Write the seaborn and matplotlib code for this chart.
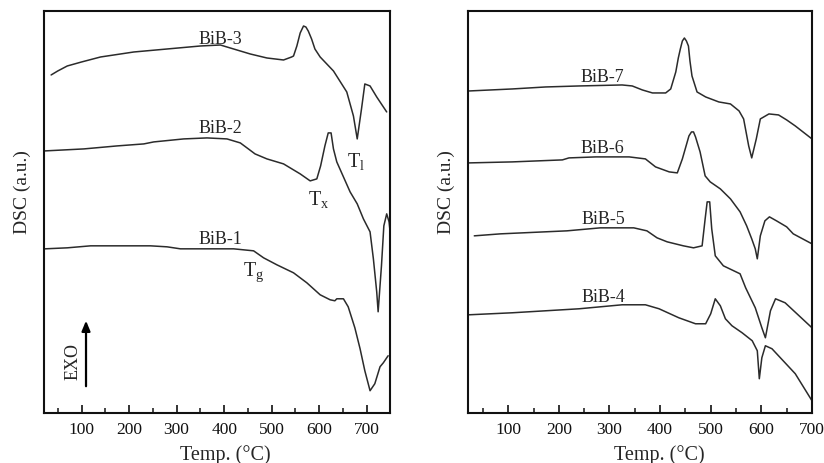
import matplotlib
matplotlib.use("Agg")
import matplotlib.pyplot as plt
import seaborn as sns
import pandas as pd

# ---------------- data (temperature in °C, DSC in arbitrary units) ----------------
bib3_t = [36, 50, 70, 100, 140, 210, 280, 350, 392, 413, 455, 490, 525, 542, 546, 553, 560, 567, 572, 577, 584, 591, 602, 630, 658, 672, 680, 689, 696, 707, 721, 742]
bib3_d = [338, 342, 347, 351, 356, 361, 364, 367, 368, 365, 359, 355, 353, 356, 357, 367, 380, 387, 386, 382, 374, 364, 356, 342, 321, 297, 274, 304, 329, 327, 316, 301]

bib2_t = [23, 105, 175, 231, 252, 315, 364, 406, 434, 451, 465, 490, 525, 560, 581, 595, 603, 612, 619, 625, 630, 637, 665, 680, 693, 707, 714, 721, 724, 731, 736, 742, 747, 749]
bib2_d = [262, 264, 267, 269, 271, 274, 275, 274, 270, 264, 259, 254, 249, 239, 232, 234, 247, 267, 280, 280, 264, 251, 221, 209, 194, 181, 154, 121, 101, 147, 187, 199, 191, 182]

bib1_t = [23, 70, 119, 175, 245, 280, 308, 350, 420, 462, 483, 511, 546, 574, 602, 623, 633, 637, 651, 661, 675, 686, 696, 707, 717, 728, 735, 745]
bib1_d = [164, 165, 167, 167, 167, 166, 164, 164, 164, 162, 155, 148, 140, 130, 118, 113, 112, 114, 114, 106, 85, 64, 42, 22, 29, 46, 50, 57]

bib7_t = [23, 108, 174, 240, 325, 345, 365, 385, 411, 421, 431, 436, 440, 444, 448, 452, 456, 459, 463, 473, 490, 516, 539, 556, 565, 575, 581, 590, 598, 615, 634, 650, 667, 700]
bib7_d = [322, 324, 326, 327, 328, 327, 323, 320, 320, 324, 341, 355, 364, 372, 375, 372, 367, 352, 337, 321, 316, 311, 309, 302, 294, 267, 255, 274, 294, 299, 298, 293, 287, 274]

bib6_t = [23, 108, 207, 220, 273, 339, 371, 391, 418, 434, 444, 457, 462, 466, 470, 479, 489, 499, 519, 539, 558, 571, 581, 588, 592, 598, 607, 616, 630, 650, 663, 700]
bib6_d = [250, 251, 253, 255, 256, 256, 254, 246, 241, 240, 254, 277, 281, 281, 276, 261, 237, 231, 224, 214, 201, 187, 174, 164, 154, 177, 192, 196, 192, 186, 179, 169]

bib5_t = [33, 85, 216, 282, 348, 374, 394, 414, 446, 466, 483, 489, 493, 498, 502, 509, 525, 558, 569, 588, 601, 608, 618, 628, 647, 700]
bib5_d = [177, 179, 182, 185, 185, 182, 175, 171, 167, 165, 167, 194, 211, 211, 184, 157, 147, 139, 125, 105, 85, 75, 102, 114, 110, 85]

bib4_t = [23, 108, 240, 325, 371, 398, 437, 470, 490, 500, 509, 519, 529, 542, 562, 582, 592, 596, 601, 608, 621, 667, 700]
bib4_d = [98, 100, 104, 108, 108, 104, 95, 89, 89, 99, 114, 107, 94, 87, 80, 72, 62, 34, 55, 67, 64, 39, 12]

left_names = ["BiB-3", "BiB-2", "BiB-1"]
right_names = ["BiB-7", "BiB-6", "BiB-5", "BiB-4"]
xticks = [100, 200, 300, 400, 500, 600, 700]

# label anchor positions (temperature, DSC)
left_label_t = [392, 392, 392]
left_label_d = [370, 281, 170]
right_label_t = [286, 287, 289, 289]
right_label_d = [332, 261, 190, 112]
marker_texts = ["T$_\\mathregular{l}$", "T$_\\mathregular{x}$", "T$_\\mathregular{g}$"]
marker_t = [677, 598, 462]
marker_d = [247, 209, 138]

# ---------------- style ----------------
sns.set_style("ticks")
plt.rcParams["font.family"] = ["Liberation Serif", "DejaVu Serif"]
plt.rcParams["mathtext.fontset"] = "custom"
plt.rcParams["mathtext.rm"] = "Liberation Serif"
plt.rcParams["mathtext.it"] = "Liberation Serif:italic"
plt.rcParams["axes.linewidth"] = 1.5
plt.rcParams["axes.edgecolor"] = "#111111"

fig = plt.figure(figsize=(8.24, 4.64), dpi=100)
axL = fig.add_axes([0.0528, 0.1084, 0.4211, 0.8657])
axR = fig.add_axes([0.5676, 0.1084, 0.4178, 0.8657])

line_color = "#2b2b2b"

left_df = pd.concat([
    pd.DataFrame({"T": bib3_t, "DSC": bib3_d, "sample": "BiB-3"}),
    pd.DataFrame({"T": bib2_t, "DSC": bib2_d, "sample": "BiB-2"}),
    pd.DataFrame({"T": bib1_t, "DSC": bib1_d, "sample": "BiB-1"}),
])
right_df = pd.concat([
    pd.DataFrame({"T": bib7_t, "DSC": bib7_d, "sample": "BiB-7"}),
    pd.DataFrame({"T": bib6_t, "DSC": bib6_d, "sample": "BiB-6"}),
    pd.DataFrame({"T": bib5_t, "DSC": bib5_d, "sample": "BiB-5"}),
    pd.DataFrame({"T": bib4_t, "DSC": bib4_d, "sample": "BiB-4"}),
])

sns.lineplot(data=left_df, x="T", y="DSC", hue="sample", units="sample", estimator=None,
             palette={n: line_color for n in left_names}, lw=1.1, legend=False, ax=axL)
sns.lineplot(data=right_df, x="T", y="DSC", hue="sample", units="sample", estimator=None,
             palette={n: line_color for n in right_names}, lw=1.1, legend=False, ax=axR)

for ax, xmax in ((axL, 750), (axR, 700)):
    ax.set_xlim(20, xmax)
    ax.set_ylim(0, 402)
    ax.set_yticks([])
    ax.set_xticks(xticks)
    ax.set_xticks(list(range(50, xmax + 1, 100)), minor=True)
    ax.tick_params(axis="x", which="major", direction="in", length=6, width=1.2,
                   labelsize=12.5, pad=6, colors="#111111")
    ax.tick_params(axis="x", which="minor", direction="in", length=3.5, width=1.2)
    ax.set_xlabel("Temp. (\u00b0C)", fontsize=14.5)
    ax.set_ylabel("DSC (a.u.)", fontsize=14)
    for s in ax.spines.values():
        s.set_visible(True)
        s.set_linewidth(1.5)

axL.xaxis.set_label_coords(0.523, -0.078)
axR.xaxis.set_label_coords(0.557, -0.078)
axL.yaxis.set_label_coords(-0.036, 0.552)
axR.yaxis.set_label_coords(-0.036, 0.552)

for n, t, d in zip(left_names, left_label_t, left_label_d):
    axL.text(t, d, n, ha="center", va="baseline", fontsize=13)
for n, t, d in zip(right_names, right_label_t, right_label_d):
    axR.text(t, d, n, ha="center", va="baseline", fontsize=13)
for s, t, d in zip(marker_texts, marker_t, marker_d):
    axL.text(t, d, s, ha="center", va="baseline", fontsize=14.5)

# EXO arrow
axL.annotate("", xy=(0.1225, 0.236), xytext=(0.1225, 0.059), xycoords="axes fraction",
             arrowprops=dict(arrowstyle="-|>,head_length=0.6,head_width=0.25", lw=1.6, color="black"))
axL.text(0.086, 0.129, "EXO", rotation=90, ha="center", va="center",
         fontsize=13, transform=axL.transAxes)

fig.savefig("out.png", dpi=100)
